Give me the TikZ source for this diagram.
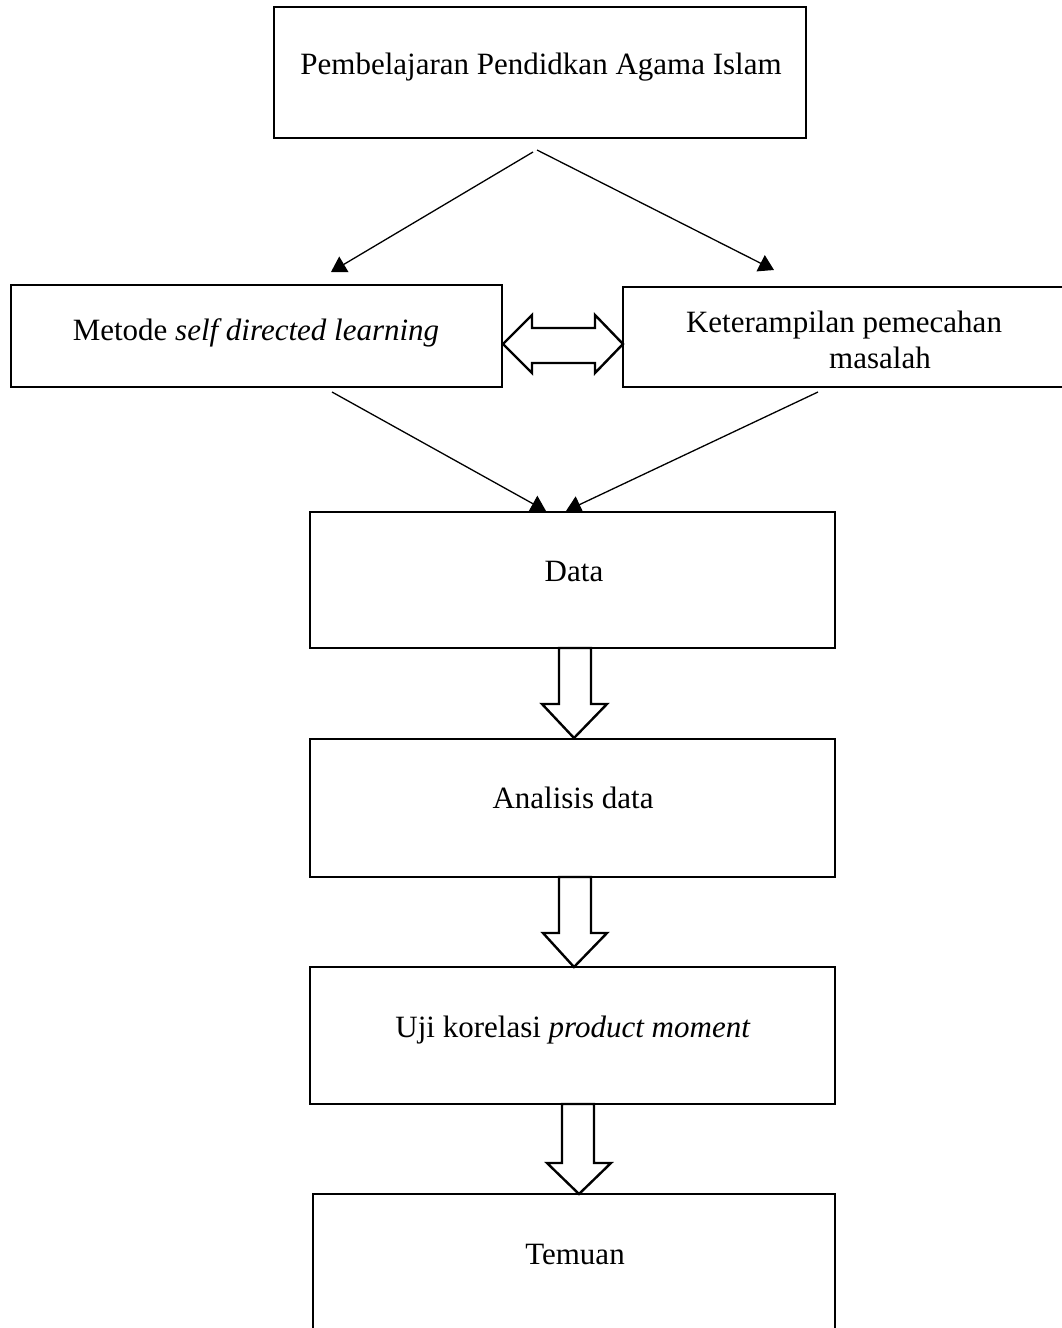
\documentclass[tikz,border=0pt]{standalone}
\usepackage{fontspec}
\setmainfont{Liberation Serif}
\usetikzlibrary{arrows.meta}
\begin{document}
\begin{tikzpicture}[x=1pt,y=-1pt,
  box/.style={draw, line width=2.5pt, inner sep=0pt, outer sep=0pt},
  lbl/.style={font=\fontsize{31}{36}\selectfont, inner sep=0pt, anchor=base},
  conn/.style={line width=1.3pt, -{Triangle[length=15pt,width=18pt]}},
  fat/.style={draw, line width=2.4pt, line join=miter, fill=white}]
\clip (0,0) rectangle (1062,1328);
\fill[white] (0,0) rectangle (1062,1328);
% boxes
\node[box, minimum width=532pt, minimum height=131pt] (top) at (540,72.5) {};
\node[box, minimum width=491pt, minimum height=102pt] (met) at (256.5,336) {};
\node[box, minimum width=457pt, minimum height=100pt] (ket) at (851.5,337) {};
\node[box, minimum width=525pt, minimum height=136pt] (data) at (572.5,580) {};
\node[box, minimum width=525pt, minimum height=138pt] (ana) at (572.5,808) {};
\node[box, minimum width=525pt, minimum height=137pt] (uji) at (572.5,1035.5) {};
\node[box, minimum width=522pt, minimum height=151pt] (tem) at (574,1269.5) {};
% labels
\node[lbl] (ttop) at (541,74) {Pembelajaran Pendidkan Agama Islam};
\node[lbl] (tmet) at (256,340) {Metode \textit{self directed learning}};
\node[lbl] (tket1) at (844,332) {Keterampilan pemecahan};
\node[lbl] (tket2) at (880,368) {masalah};
\node[lbl] (tdata) at (574,581) {Data};
\node[lbl] (tana) at (573,808) {Analisis data};
\node[lbl] (tuji) at (573,1037) {Uji korelasi \textit{product moment}};
\node[lbl] (ttem) at (575,1264) {Temuan};
% connector end points
\coordinate (s1) at (533,152);
\coordinate (e1) at (331,272);
\coordinate (s2) at (537,150);
\coordinate (e2) at (774,270);
\coordinate (s3) at (332,392);
\coordinate (e3) at (546,511);
\coordinate (s4) at (818,392);
\coordinate (e4) at (566,511);
\draw[conn] (s1) -- (e1);
\draw[conn] (s2) -- (e2);
\draw[conn] (s3) -- (e3);
\draw[conn] (s4) -- (e4);
% double block arrow
\draw[fat] (503,344) -- (532,315) -- (532,328) -- (595,328) -- (595,315) -- (623,344)
  -- (595,373) -- (595,363) -- (532,363) -- (532,373) -- cycle;
% down block arrows
\draw[fat] (559,648) -- (559,704) -- (542,704) -- (574,738) -- (607,704) -- (591,704) -- (591,648) -- cycle;
\draw[fat] (559,877) -- (559,933) -- (543,933) -- (574,967) -- (607,933) -- (591,933) -- (591,877) -- cycle;
\draw[fat] (562,1104) -- (562,1163) -- (547,1163) -- (579,1194) -- (611,1163) -- (594,1163) -- (594,1104) -- cycle;
\end{tikzpicture}
\end{document}
